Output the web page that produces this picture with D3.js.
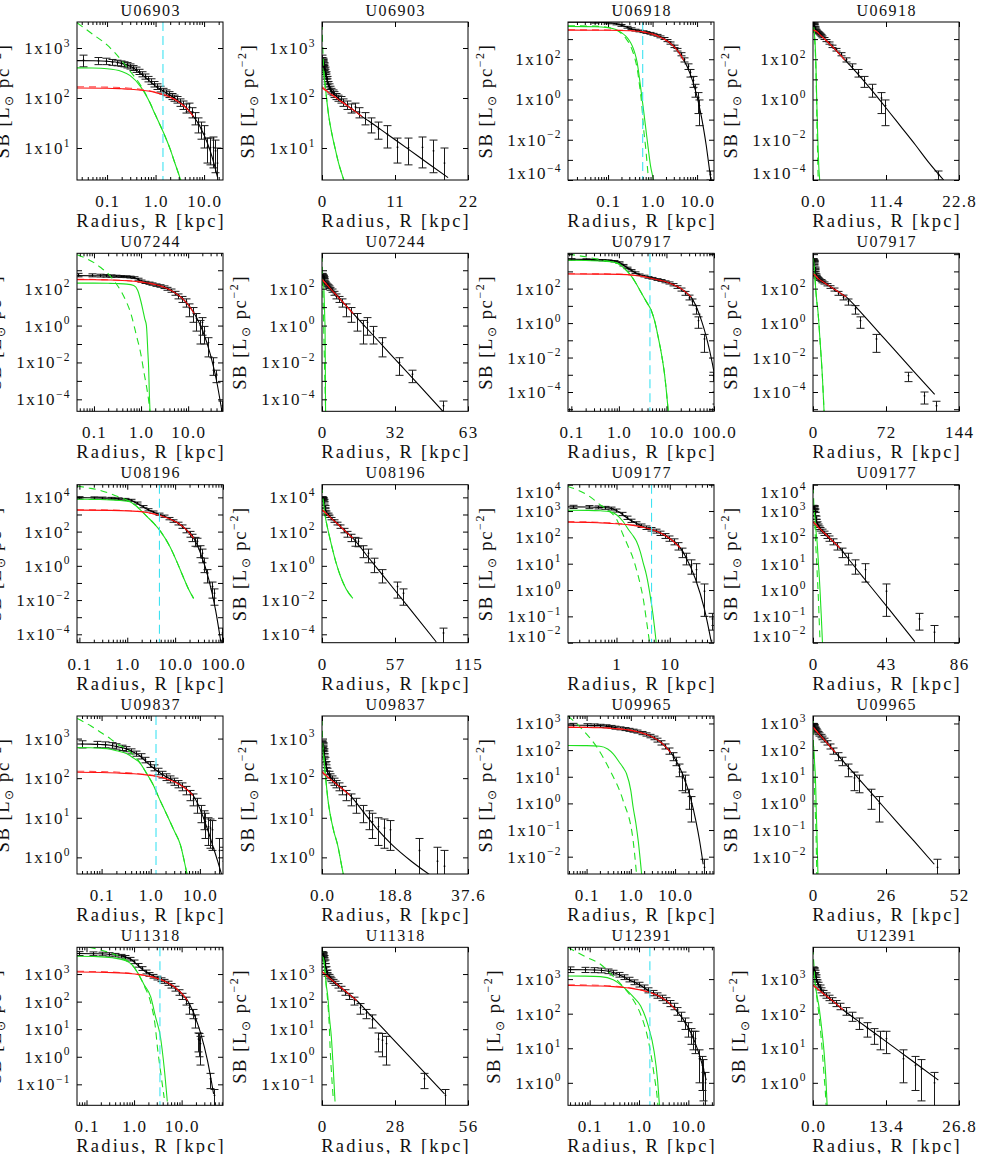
<!DOCTYPE html>
<html><head><meta charset="utf-8">
<script src="https://cdn.jsdelivr.net/npm/d3@7"></script>
<style>
body{margin:0;background:#fff;}
svg{display:block;}
text{font-family:"Liberation Serif","Times New Roman",serif;fill:#111;}
</style></head><body>
<svg id="chart" width="981" height="1154"></svg>
<script>
// ---------- axis metadata ----------
const names = ["U06903","U06918","U07244","U07917","U08196","U09177","U09837","U09965","U11318","U12391"];
const yRanges = [[0.36,3.52],[-4.0,3.85],[-4.65,3.92],[-5.12,4.05],[-4.49,4.74],[-2,4],[-0.42,3.57],[-2.65,3.28],[-1.76,3.97],[-0.65,3.92]];
const yTickExps = [[1,2,3],[-4,-2,0,2],[-4,-2,0,2],[-4,-2,0,2],[-4,-2,0,2,4],[-2,-1,0,1,2,3,4],[0,1,2,3],[-2,-1,0,1,2,3],[-1,0,1,2,3],[0,1,2,3]];
const xLogRanges = [[-1.62,1.39],[-1.9,1.38],[-1.36,1.74],[-1.07,2.0],[-1.05,2.0],[-0.91,1.83],[-1.5,1.47],[-1.42,1.88],[-1.2,1.87],[-1.44,1.52]];
const xLogTickLabels = [["0.1","1.0","10.0"],["0.1","1.0","10.0"],["0.1","1.0","10.0"],["0.1","1.0","10.0","100.0"],["0.1","1.0","10.0","100.0"],["1","10"],["0.1","1.0","10.0"],["0.1","1.0","10.0"],["0.1","1.0","10.0"],["0.1","1.0","10.0"]];
const xLinMax = [22,22.8,63,144,115,86,37.6,52,56,26.8];
const xLinTickLabels = [["0","11","22"],["0.0","11.4","22.8"],["0","32","63"],["0","72","144"],["0","57","115"],["0","43","86"],["0.0","18.8","37.6"],["0","26","52"],["0","28","56"],["0.0","13.4","26.8"]];
const cyanR = [1.42,0.6,null,4.5,4.7,4.55,1.28,null,3.5,1.66];

// ---------- U06903 ----------
const U06903_total = [[0.024,559],[0.05,555],[0.1,542],[0.2,493],[0.3,430],[0.5,308],[0.7,233],[1.0,173],[1.5,134],[2,113],[2.5,98],[3,86],[3.5,77],[4,68],[5,54.5],[6,43],[7,35],[10,18.2],[13,9.5],[16,4.9],[19,2.56]];
const U06903_disk = [[0.024,159],[0.1,157],[0.2,153],[0.3,150],[0.5,143],[0.7,138],[1,128],[1.5,115],[2,104],[2.5,93],[3,83],[3.5,75],[4,67],[5,54],[6,43]];
const U06903_diskD = [[0.024,168],[0.1,165],[0.3,157],[0.5,149],[0.7,142],[1,131],[1.5,117],[2,105],[3,84],[4,67]];
const U06903_bulge = [[0.024,400],[0.05,397],[0.1,385],[0.2,340],[0.3,280],[0.5,165],[0.7,95],[1,45],[1.5,19],[2,9.5],[2.5,5],[3,3],[3.5,1.9],[4,1.2]];
const U06903_bulgeD = [[0.024,3200],[0.05,1900],[0.1,1150],[0.2,560],[0.3,340],[0.5,175],[0.7,97],[1,45],[1.5,19],[2,9.5],[2.5,5],[3,3],[3.5,1.9],[4,1.2]];
const U06903_obs = [[0.032,570,150],[0.064,555,90],[0.096,545,80],[0.128,520,70],[0.16,505,65],[0.19,490,60],[0.22,475,55],[0.26,455,55],[0.3,430,50],[0.35,400,45],[0.4,370,45],[0.46,335,40],[0.53,300,35],[0.61,270,32],[0.7,240,30],[0.8,215,27],[0.92,190,24],[1.06,170,22],[1.22,152,20],[1.4,138,18],[1.61,128,17],[1.85,118,16],[2.13,108,15],[2.45,100,14],[2.8,93,14],[3.2,82,14],[3.7,73,14],[4.3,63,13],[4.9,66,13],[5.6,52,12],[6.5,40,11],[7.4,30,10],[8.5,24,9],[9.8,19,9],[11.3,10.4,5.4],[13,10.2,5.6],[15.1,10.3,6.3],[16.8,8.8,5.6],[18.4,5,5]];

// ---------- U06918 ----------
const U06918_total = [[0.0126,7000],[0.05,6900],[0.1,6450],[0.15,5750],[0.2,4850],[0.25,4100],[0.3,3450],[0.35,3000],[0.4,2750],[0.5,2500],[0.6,2300],[1,1780],[1.5,1260],[2.1,835],[3,430],[4,200],[5,90],[6,42],[8,8],[10,1.4],[12,0.22],[14,0.035],[16,5.5e-3],[18,8e-4],[20.4,1e-4]];
const U06918_disk = [[0.0126,2800],[0.1,2750],[0.3,2600],[0.6,2300],[1,1750],[1.5,1250],[2.1,830],[3,430],[4,200],[5,90]];
const U06918_diskD = [[0.0126,2900],[0.1,2850],[0.3,2680],[0.6,2350],[1,1780],[1.5,1260],[2.1,835]];
const U06918_bulge = [[0.0126,4200],[0.05,4100],[0.1,3700],[0.15,3000],[0.2,2100],[0.25,1400],[0.3,850],[0.35,450],[0.4,200],[0.45,70],[0.52,7.4],[0.57,1.5],[0.62,0.36],[0.7,0.04],[0.8,3.6e-3],[0.9,5e-4],[1.04,1e-4],[1.1,4e-5]];
const U06918_bulgeD = [[0.0126,4600],[0.05,4400],[0.1,3800],[0.15,2900],[0.2,1900],[0.25,1100],[0.3,600],[0.35,280],[0.4,110],[0.45,35],[0.52,3.5],[0.57,0.6],[0.62,0.05],[0.7,4e-3],[0.8,1.5e-4],[0.85,4e-5]];
const U06918_obs = [[0.05,6900,700],[0.1,6400,650],[0.15,5700,580],[0.2,4800,500],[0.26,3900,400],[0.33,3300,340],[0.41,2800,290],[0.5,2550,260],[0.6,2350,240],[0.72,2150,220],[0.86,1950,200],[1.03,1750,180],[1.23,1550,160],[1.47,1300,140],[1.76,1080,120],[2.1,850,100],[2.5,640,80],[3.0,440,60],[3.6,300,45],[4.3,180,32],[5.1,95,22],[6.1,45,14],[7.0,22,9],[8.0,9,5],[9.2,3.5,2.2],[10.6,1.2,1.0],[11.3,0.5,0.45],[19.5,1.9e-4,9e-5]];

// ---------- U07244 ----------
const U07244_total = [[0.044,512],[0.1,506],[0.2,493],[0.3,478],[0.5,448],[0.7,401],[0.85,325],[1.0,250],[1.2,219],[1.4,203],[1.6,191],[2,168],[3,123],[5,65],[7,34.8],[10,13.5],[13.5,4.5],[20,0.575],[30,0.0245],[40,1.05e-3],[52.5,2e-5]];
const U07244_disk = [[0.044,312],[0.1,306],[0.2,297],[0.3,288],[0.5,270],[0.7,253],[1,231],[1.6,191],[2,168],[3,123],[5,65],[7,34.8],[10,13.5],[13.5,4.5]];
const U07244_diskD = [[0.044,325],[0.2,305],[0.5,276],[1,234],[2,169],[3,123]];
const U07244_bulge = [[0.044,200],[0.1,200],[0.2,196],[0.3,190],[0.5,178],[0.7,148],[0.85,80],[1.0,19],[1.1,6.5],[1.2,2.3],[1.3,1.0],[1.4,0.03],[1.45,5e-3],[1.5,2e-4],[1.55,2e-5]];
const U07244_bulgeD = [[0.044,7000],[0.07,4200],[0.1,2600],[0.134,1500],[0.2,650],[0.28,230],[0.4,55],[0.49,19],[0.6,5],[0.8,0.28],[1.0,0.025],[1.15,3e-3],[1.3,5.4e-4],[1.47,6.6e-5],[1.55,2e-5]];
const U07244_obs = [[0.045,560,120],[0.09,540,100],[0.135,520,90],[0.18,505,80],[0.23,490,70],[0.3,478,60],[0.38,462,55],[0.47,448,50],[0.57,430,48],[0.7,400,45],[0.85,330,40],[1.0,260,35],[1.2,222,30],[1.45,200,28],[1.75,180,26],[2.1,158,24],[2.5,142,22],[3.0,122,20],[3.6,100,18],[4.3,80,16],[5.2,58,14],[6.2,40,12],[7.4,28,10],[8.8,19,9],[10.5,9,6],[12.5,5.5,4],[15,2.5,2],[17.5,1.0,0.9],[19.3,1.5,1.2],[22,0.5,0.4],[26.1,0.12,0.1],[33.3,0.01,0.008],[39,2.3e-3,1.5e-3],[52,4.5e-5,3.5e-5]];

// ---------- U07917 ----------
const U07917_total = [[0.085,5100],[0.2,5000],[0.5,4590],[0.78,4130],[1.0,3370],[1.3,2150],[1.78,1205],[2.3,780],[2.9,590],[3.8,477],[4.78,405],[5.7,360],[7.5,300],[10,245],[14,170],[18,120],[22,85],[27,55],[33,32],[39.5,13.5],[45,5.9],[55,1.3],[70,0.135],[93,4.2e-3],[109,3.7e-4],[120,7.2e-5]];
const U07917_disk = [[0.085,700],[0.5,690],[1,670],[2,600],[3,520],[5,390],[7.5,300],[10,245],[14,170],[18,120],[22,85],[27,55],[33,32]];
const U07917_diskD = [[0.085,730],[0.5,715],[1,690],[2,610],[3,525],[5,392]];
const U07917_bulge = [[0.085,4400],[0.2,4300],[0.5,3900],[0.78,3450],[1.0,2700],[1.3,1500],[1.78,590],[2.3,200],[2.9,63],[3.8,17],[4.78,5.5],[5.7,1.2],[6.6,0.19],[8,0.012],[9.2,9e-4],[10.9,8e-6]];
const U07917_bulgeD = [[0.085,10000],[0.2,7000],[0.3,5600],[0.5,4300],[0.78,3400],[1.0,2700],[1.3,1500],[1.78,590],[2.3,200],[2.9,63],[3.8,17],[4.78,5.5],[5.7,1.2],[6.6,0.19],[8,0.012],[9.2,9e-4],[10.9,8e-6]];
const U07917_obs = [[0.1,5000,500],[0.2,4900,450],[0.3,4700,420],[0.45,4500,400],[0.6,4200,380],[0.8,3900,350],[1.0,3300,300],[1.25,2300,230],[1.5,1600,160],[1.8,1150,120],[2.2,850,90],[2.7,640,70],[3.3,540,60],[4.0,450,50],[5.0,400,45],[6.2,340,40],[7.6,300,36],[9.3,250,32],[11.3,215,30],[13.8,170,26],[16.8,125,22],[20.5,90,18],[25,55,14],[30,32,10],[35,18,7],[41.2,6.8,3.5],[46,1.4,0.9],[62.4,0.12,0.1],[93.4,9e-4,5e-4],[109.7,6e-5,4e-5],[121,1.6e-5,1.3e-5]];

// ---------- U08196 ----------
const U08196_total = [[0.089,9600],[0.15,9500],[0.27,9300],[0.45,8850],[0.7,8200],[1.13,7200],[1.5,4950],[1.9,3300],[2.6,2050],[3.6,1350],[5,950],[7.8,563],[11,342],[14.7,190],[19,96],[24.3,42],[35,4.3],[50,0.18],[70,2.6e-3],[90,3.6e-5]];
const U08196_disk = [[0.089,1800],[0.45,1750],[1.13,1600],[2.6,1300],[5,850],[7.8,550],[11,340],[14.7,190],[19,96],[24.3,42]];
const U08196_diskD = [[0.089,1900],[0.45,1820],[1.13,1640],[2.6,1310],[5,855]];
const U08196_bulge = [[0.089,7800],[0.15,7700],[0.27,7500],[0.45,7100],[0.7,6500],[1.13,5600],[1.5,3300],[1.9,1800],[2.6,750],[3.6,300],[5,100],[7.8,13],[11,1.6],[14.7,0.23],[19,0.045],[24.3,0.0126]];
const U08196_bulgeD = [[0.089,46000],[0.15,36000],[0.27,26000],[0.45,16000],[0.7,10000],[1.13,5800],[1.5,3400],[1.9,1800],[2.6,750],[3.6,300],[5,100],[7.8,13],[11,1.6],[14.7,0.23],[19,0.045],[24.3,0.0126]];
const U08196_obs = [[0.1,9500,1500],[0.2,9300,1400],[0.3,9100,1300],[0.45,8800,1200],[0.65,8300,1100],[0.9,7700,1000],[1.2,6800,900],[1.6,4700,650],[2.1,2900,420],[2.7,1900,280],[3.5,1400,200],[4.5,1050,150],[5.8,800,120],[7.3,580,90],[9.2,420,70],[11.5,300,55],[14,200,45],[17,120,35],[20,75,28],[23,48,22],[26,30,16],[28.6,27,14],[32.5,9,6],[36,5.5,4],[41,1.6,1.2],[47,0.35,0.25],[58.8,0.063,0.05],[64,0.025,0.02],[95.6,1.2e-4,1.1e-4]];

// ---------- U09177 ----------
const U09177_total = [[0.12,1445],[0.3,1430],[0.5,1375],[0.75,1290],[1.0,1050],[1.33,715],[1.7,490],[2.05,400],[2.37,340],[2.8,290],[3.16,252],[3.65,228],[4.2,212],[4.86,190],[5.6,172],[7,140],[10,91],[15.8,40],[20,18],[30,2.8],[45,0.18],[60,0.011]];
const U09177_disk = [[0.12,375],[0.3,370],[0.5,355],[0.75,340],[1.0,330],[1.33,315],[2.05,285],[3.16,240],[4.86,190],[7,140],[10,91],[15.8,40]];
const U09177_diskD = [[0.12,400],[0.5,372],[1.0,340],[2.05,290],[3.16,242]];
const U09177_bulge = [[0.12,1070],[0.3,1060],[0.5,1020],[0.75,950],[1.0,720],[1.33,400],[1.7,190],[2.05,115],[2.37,71],[2.8,28],[3.16,11],[3.65,3.7],[4.2,0.8],[4.86,0.11],[5.6,0.009]];
const U09177_bulgeD = [[0.12,8700],[0.3,3800],[0.5,1700],[0.75,950],[1.0,500],[1.33,125],[1.7,40],[2.05,16],[2.37,6],[2.8,1.6],[3.16,0.5],[3.65,0.07],[4.2,0.0093]];
const U09177_obs = [[0.15,1450,200],[0.3,1420,190],[0.45,1380,180],[0.6,1330,170],[0.8,1250,160],[1.0,1050,140],[1.25,780,110],[1.55,560,80],[1.9,430,60],[2.35,340,50],[2.9,280,42],[3.6,235,36],[4.4,205,32],[5.4,175,30],[6.6,145,27],[8.0,115,24],[9.7,92,21],[11.8,70,18],[14.2,48,15],[17,28,11],[20.5,17,8],[24.6,9,5],[30.4,6,4],[43,0.9,0.8],[62.6,0.08,0.05],[71,0.025,0.02]];

// ---------- U09837 ----------
const U09837_total = [[0.032,731],[0.06,725],[0.095,709],[0.15,678],[0.205,625],[0.32,549],[0.45,449],[0.59,375],[0.8,261],[1.1,186],[1.5,139],[2.1,107],[3,85.5],[4,69],[5.5,51.4],[7.2,37.5],[10,17],[14,5.5],[18,2.1],[23,0.8],[28,0.35]];
const U09837_disk = [[0.032,141],[0.095,139],[0.205,135],[0.45,129],[0.8,121],[1.1,115],[1.5,107],[2.1,95],[3,81],[4,67],[5.5,51],[7.2,37]];
const U09837_diskD = [[0.032,150],[0.2,143],[0.45,134],[0.8,124],[1.5,109],[2.1,96]];
const U09837_bulge = [[0.032,590],[0.06,585],[0.095,570],[0.15,540],[0.205,490],[0.32,417],[0.45,320],[0.59,250],[0.8,140],[1.1,71],[1.5,30],[2.1,12.3],[3,4.7],[4,2.1],[5.5,0.37],[6.5,0.15]];
const U09837_bulgeD = [[0.032,3200],[0.06,2100],[0.095,1450],[0.15,1000],[0.205,740],[0.32,540],[0.45,380],[0.59,255],[0.8,140],[1.1,71],[1.5,30],[2.1,12.3],[3,4.7],[4,2.1],[5.5,0.37],[6.5,0.15]];
const U09837_obs = [[0.04,730,150],[0.08,720,130],[0.12,705,120],[0.16,680,110],[0.2,640,100],[0.26,590,90],[0.32,545,80],[0.4,480,70],[0.5,420,62],[0.62,360,55],[0.77,290,46],[0.95,225,38],[1.15,185,32],[1.4,150,28],[1.7,125,24],[2.05,108,21],[2.5,95,19],[3.0,83,17],[3.6,72,15],[4.3,62,14],[5.2,50,12],[6.2,38,11],[7.4,30,10],[8.8,22,9],[10.5,14,6.5],[12,10,5],[13,8,5],[14.5,6,4],[16,5.5,3.8],[17.5,5,3.5],[25,1.5,1.5],[29.6,0.8,1.0],[31.3,0.6,0.9]];

// ---------- U09965 ----------
const U09965_total = [[0.038,864],[0.1,852],[0.2,826],[0.3,775],[0.4,721],[0.55,660],[0.67,625],[0.8,595],[1,554],[1.13,535],[1.3,512],[1.5,479],[2.7,346],[4,242],[5.4,165],[8,81],[10.8,37.6],[15,11.9],[21.7,1.9],[30,0.195],[36,0.038],[43.2,5.2e-3]];
const U09965_disk = [[0.038,716],[0.1,705],[0.2,686],[0.4,649],[0.67,603],[1,551],[1.5,479],[2.7,346],[4,242],[5.4,165],[8,81]];
const U09965_diskD = [[0.038,740],[0.2,700],[0.67,610],[1.5,482],[2.7,347]];
const U09965_bulge = [[0.038,148],[0.1,147],[0.2,140],[0.3,110],[0.4,72],[0.55,35],[0.67,22],[0.8,13],[1,3],[1.13,0.7],[1.3,0.18],[1.47,0.039],[1.76,2.1e-3]];
const U09965_bulgeD = [[0.038,1900],[0.084,550],[0.17,130],[0.34,17],[0.67,1.26],[1.13,0.039],[1.35,2.1e-3]];
const U09965_obs = [[0.05,860,150],[0.1,850,130],[0.15,840,120],[0.2,820,110],[0.27,790,100],[0.35,750,95],[0.45,700,90],[0.57,660,85],[0.72,620,80],[0.9,580,75],[1.1,540,70],[1.4,500,65],[1.75,440,60],[2.2,390,55],[2.7,340,50],[3.3,290,45],[4.0,240,40],[4.9,190,35],[6.0,140,30],[7.3,95,25],[8.8,60,20],[10.5,40,14],[12.5,20,10],[14.5,9,6],[16.5,7,4.5],[20.5,2.0,1.4],[23.5,1.0,0.8],[44,4e-3,4e-3]];

// ---------- U11318 ----------
const U11318_total = [[0.063,5590],[0.17,5467],[0.35,5030],[0.62,4276],[0.9,3223],[1.17,2150],[1.6,1332],[2.24,952],[2.8,757],[3.6,635],[4.3,556],[5,490],[6.5,374],[8.2,275],[10,200],[13.3,110],[18,37],[25,7.3],[35,0.72],[47,0.045]];
const U11318_disk = [[0.063,1190],[0.17,1167],[0.35,1130],[0.62,1076],[0.9,1023],[1.17,975],[1.6,902],[2.24,804],[2.8,727],[3.6,630],[4.3,556],[5,490],[6.5,374],[8.2,275],[10,200],[13.3,110]];
const U11318_diskD = [[0.063,1260],[0.35,1180],[0.9,1050],[1.6,915],[2.8,730],[4.3,557]];
const U11318_bulge = [[0.063,4400],[0.17,4300],[0.35,3900],[0.62,3200],[0.9,2200],[1.17,1175],[1.6,430],[2.24,148],[2.8,30],[3.6,5],[4.3,0.4],[5,0.024]];
const U11318_bulgeD = [[0.063,11000],[0.17,8000],[0.35,5500],[0.62,3500],[0.9,2200],[1.17,1170],[1.6,400],[2.24,90],[2.8,12],[3.1,2.2],[3.6,0.3],[4.3,0.032]];
const U11318_obs = [[0.07,5600,900],[0.14,5500,850],[0.21,5400,800],[0.3,5200,750],[0.4,4900,700],[0.52,4500,650],[0.66,4100,600],[0.82,3500,520],[1.0,2800,420],[1.2,2100,320],[1.45,1600,250],[1.75,1200,190],[2.1,980,150],[2.5,840,130],[3.0,720,110],[3.6,630,100],[4.3,550,90],[5.1,470,80],[6.1,380,70],[7.3,300,60],[8.7,220,50],[10.3,160,40],[12.2,110,35],[14.5,60,25],[17,38,14],[19,22,11],[21.6,4.4,2.9],[23,4,3],[24.7,3,2.5],[39,0.16,0.09],[47,0.04,0.025]];

// ---------- U12391 ----------
const U12391_total = [[0.036,1883],[0.08,1865],[0.165,1810],[0.3,1561],[0.49,1149],[0.75,848],[1.08,650],[1.5,479],[2.02,377],[2.37,338],[2.6,314],[3.5,242],[5.5,130],[8,66],[11.3,27.5],[15.5,9],[19,3.5],[23,1.2]];
const U12391_disk = [[0.036,653],[0.08,645],[0.165,630],[0.3,606],[0.49,574],[0.75,532],[1.08,484],[1.5,429],[2.02,369],[2.6,313],[3.5,242],[5.5,130]];
const U12391_diskD = [[0.036,690],[0.165,660],[0.49,590],[1.08,490],[2.02,371]];
const U12391_bulge = [[0.036,1230],[0.08,1220],[0.165,1180],[0.3,955],[0.49,575],[0.75,316],[1.08,166],[1.5,50],[2.02,8.1],[2.37,1.26],[2.56,0.29],[2.8,0.05]];
const U12391_bulgeD = [[0.036,8300],[0.08,4500],[0.165,2700],[0.3,1200],[0.49,575],[0.75,260],[1.08,95],[1.5,20],[2.02,1.74],[2.37,0.29],[2.5,0.1]];
const U12391_obs = [[0.04,1900,350],[0.08,1870,320],[0.12,1840,300],[0.17,1800,280],[0.23,1700,260],[0.3,1560,240],[0.39,1350,210],[0.5,1150,180],[0.63,980,150],[0.8,820,130],[1.0,700,110],[1.25,580,95],[1.55,480,80],[1.9,400,70],[2.35,340,60],[2.9,290,52],[3.5,245,45],[4.2,200,40],[5.0,165,35],[6.0,120,30],[7.1,85,25],[8.4,55,20],[9.9,38,17],[11.2,25,12],[12.3,20,11],[13.4,19,12],[16.5,5,4],[18.7,3.2,2.6],[19.8,2.5,2.2],[22.2,1.0,1.0]];

const totals = [U06903_total,U06918_total,U07244_total,U07917_total,U08196_total,U09177_total,U09837_total,U09965_total,U11318_total,U12391_total];
const disks = [U06903_disk,U06918_disk,U07244_disk,U07917_disk,U08196_disk,U09177_disk,U09837_disk,U09965_disk,U11318_disk,U12391_disk];
const disksD = [U06903_diskD,U06918_diskD,U07244_diskD,U07917_diskD,U08196_diskD,U09177_diskD,U09837_diskD,U09965_diskD,U11318_diskD,U12391_diskD];
const bulges = [U06903_bulge,U06918_bulge,U07244_bulge,U07917_bulge,U08196_bulge,U09177_bulge,U09837_bulge,U09965_bulge,U11318_bulge,U12391_bulge];
const bulgesD = [U06903_bulgeD,U06918_bulgeD,U07244_bulgeD,U07917_bulgeD,U08196_bulgeD,U09177_bulgeD,U09837_bulgeD,U09965_bulgeD,U11318_bulgeD,U12391_bulgeD];
const obsAll = [U06903_obs,U06918_obs,U07244_obs,U07917_obs,U08196_obs,U09177_obs,U09837_obs,U09965_obs,U11318_obs,U12391_obs];

// ---------- layout ----------
const PW = 146, PH = 158;
const colX = [77, 322, 568, 813];
const rowY = [22, 253.3, 484.7, 716, 947.3];
const svg = d3.select('#chart');
const GREEN = '#1fe01f', RED = '#ff1010', CYAN = '#3fe3f2';

// text widened with letter spacing (IDL vector font is wider than Times)
function stext(parent, x, y, size, anchor, ls, str) {
  return parent.append('text').attr('x', x + ls / 2).attr('y', y).attr('text-anchor', anchor)
    .attr('font-size', size).attr('letter-spacing', ls).text(str);
}

names.forEach((n, i) => {
  const row = Math.floor(i / 2), c0 = (i % 2) * 2;
  drawPanel(i, colX[c0], rowY[row], 'log');
  drawPanel(i, colX[c0 + 1], rowY[row], 'lin');
});

function drawPanel(i, L, T, mode) {
  const g = svg.append('g').attr('transform', `translate(${L},${T})`);
  const [ylo, yhi] = yRanges[i];
  const ys = d3.scaleLog().domain([10 ** ylo, 10 ** yhi]).range([PH, 0]);
  let xs;
  if (mode === 'log') {
    const [a, b] = xLogRanges[i];
    xs = d3.scaleLog().domain([10 ** a, 10 ** b]).range([0, PW]);
  } else {
    xs = d3.scaleLinear().domain([0, xLinMax[i]]).range([0, PW]);
  }
  const cid = 'clip' + i + mode;
  g.append('clipPath').attr('id', cid).append('rect').attr('width', PW).attr('height', PH);
  const pg = g.append('g').attr('clip-path', `url(#${cid})`);

  // observed points with error bars
  const ob = pg.append('g').attr('stroke', '#1a1a1a').attr('stroke-width', 1).attr('fill', 'none');
  obsAll[i].forEach(([r, s, e]) => {
    const x = Math.round(xs(r)) + 0.5;
    const yT = ys(s + e);
    const yB = (s - e) > 0 ? ys(s - e) : PH + 20;
    ob.append('line').attr('x1', x).attr('x2', x).attr('y1', yT).attr('y2', yB);
    ob.append('line').attr('x1', x - 4).attr('x2', x + 4).attr('y1', yT).attr('y2', yT);
    if ((s - e) > 0) ob.append('line').attr('x1', x - 4).attr('x2', x + 4).attr('y1', yB).attr('y2', yB);
    pg.append('circle').attr('cx', x).attr('cy', ys(s)).attr('r', 0.9).attr('fill', '#000');
  });

  const line = d3.line().x(d => xs(d[0])).y(d => ys(d[1])).curve(d3.curveMonotoneX);
  const path = (data, color, dash) => {
    const p = pg.append('path').datum(data).attr('d', line).attr('fill', 'none')
      .attr('stroke', color).attr('stroke-width', 1.1);
    if (dash) p.attr('stroke-dasharray', dash);
  };
  path(totals[i], '#000', null);
  path(bulgesD[i], GREEN, '7,5');
  path(bulges[i], GREEN, null);
  path(disksD[i], '#ff5050', '7,5');
  path(disks[i], RED, null);

  if (mode === 'log' && cyanR[i] != null) {
    const cx = xs(cyanR[i]);
    pg.append('line').attr('x1', cx).attr('x2', cx).attr('y1', 0).attr('y2', PH)
      .attr('stroke', CYAN).attr('stroke-width', 1.1).attr('stroke-dasharray', '9,5');
  }

  // axes (ticks inward)
  const decades = d3.range(Math.ceil(ylo), Math.floor(yhi) + 1).map(e => 10 ** e);
  const yAxL = d3.axisLeft(ys).tickValues(decades).tickSize(-5).tickSizeOuter(0).tickFormat('');
  const yAxR = d3.axisRight(ys).tickValues(decades).tickSize(-5).tickSizeOuter(0).tickFormat('');
  g.append('g').call(yAxL).call(s => s.select('.domain').remove());
  g.append('g').attr('transform', `translate(${PW},0)`).call(yAxR).call(s => s.select('.domain').remove());

  let major, minor = [];
  if (mode === 'log') {
    major = xLogTickLabels[i].map(Number);
    const [a, b] = xLogRanges[i];
    for (let e = Math.floor(a); e <= Math.ceil(b); e++) {
      for (let k = 1; k <= 9; k++) {
        const v = k * 10 ** e;
        if (Math.log10(v) >= a && Math.log10(v) <= b) {
          if (k === 1) { if (!major.some(m => Math.abs(m - v) < 1e-9)) major = major.concat([v]); }
          else minor.push(v);
        }
      }
    }
  } else {
    major = [0, xLinMax[i] / 2, xLinMax[i]];
  }
  const xb = d3.axisBottom(xs).tickValues(major).tickSize(-5).tickSizeOuter(0).tickFormat('');
  const xt = d3.axisTop(xs).tickValues(major).tickSize(-5).tickSizeOuter(0).tickFormat('');
  g.append('g').attr('transform', `translate(0,${PH})`).call(xb).call(s => s.select('.domain').remove());
  g.append('g').call(xt).call(s => s.select('.domain').remove());
  if (minor.length) {
    g.append('g').attr('transform', `translate(0,${PH})`)
      .call(d3.axisBottom(xs).tickValues(minor).tickSize(-3).tickSizeOuter(0).tickFormat(''))
      .call(s => s.select('.domain').remove());
    g.append('g').call(d3.axisTop(xs).tickValues(minor).tickSize(-3).tickSizeOuter(0).tickFormat(''))
      .call(s => s.select('.domain').remove());
  }
  g.selectAll('.tick line').attr('stroke', '#000');

  // frame
  g.append('rect').attr('x', 0).attr('y', 0).attr('width', PW).attr('height', PH)
    .attr('fill', 'none').attr('stroke', '#000').attr('stroke-width', 1);

  // x tick labels
  const xl = mode === 'log' ? xLogTickLabels[i] : xLinTickLabels[i];
  const xv = mode === 'log' ? xl.map(Number) : [0, xLinMax[i] / 2, xLinMax[i]];
  xl.forEach((t, k) => { stext(g, xs(xv[k]), PH + 27, 17, 'middle', 1.3, t); });

  // y tick labels
  const yl = g.append('g');
  yTickExps[i].forEach(e => {
    let yy = ys(10 ** e);
    yy = Math.max(7, Math.min(PH - 7, yy));
    const t = yl.append('text').attr('x', -6).attr('y', yy + 6).attr('text-anchor', 'end')
      .attr('font-size', 17).attr('letter-spacing', 1.4);
    t.append('tspan').text('1x10');
    t.append('tspan').attr('font-size', 11.5).attr('dy', -7.5).text((e < 0 ? '\u2212' : '') + Math.abs(e));
  });
  const yw = yl.node().getBBox().width;

  // y title
  const tx = -6 - yw - 22, ty = PH / 2;
  const yt = g.append('text').attr('transform', `translate(${tx},${ty}) rotate(-90)`)
    .attr('text-anchor', 'middle').attr('dy', '0.35em').attr('font-size', 18.5).attr('letter-spacing', 1.6);
  yt.append('tspan').text('SB [L');
  yt.append('tspan').attr('font-size', 12).attr('dy', 4).text('\u2299');
  yt.append('tspan').attr('dy', -4).text(' pc');
  yt.append('tspan').attr('font-size', 12).attr('dy', -8).text('\u22122');
  yt.append('tspan').attr('dy', 8).text(']');

  // x title
  stext(g, PW / 2, PH + 47, 18.5, 'middle', 2.2, 'Radius, R [kpc]');

  // panel title
  stext(g, PW / 2, -6.5, 16, 'middle', 1.5, names[i]);
}
</script>
</body></html>
